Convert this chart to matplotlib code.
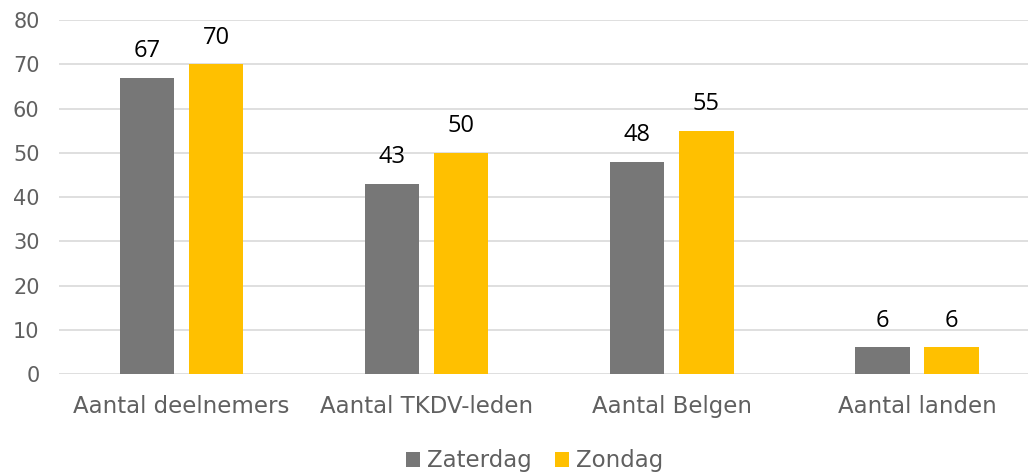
import numpy as np
import matplotlib.pyplot as plt

categories = ['Aantal deelnemers', 'Aantal TKDV-leden', 'Aantal Belgen', 'Aantal landen']
zaterdag = [67, 43, 48, 6]
zondag = [70, 50, 55, 6]

plt.rcParams['font.family'] = ['DejaVu Sans']

fig = plt.figure(figsize=(10.28, 4.73), dpi=100)
# plot area runs past the right edge (the original chart is cropped there)
ax = fig.add_axes([0.0574, 0.2093, 0.9538, 0.7484])

x = np.arange(len(categories))
w = 0.222
b1 = ax.bar(x - 0.141, zaterdag, w, color='#777777', label='Zaterdag', zorder=3)
b2 = ax.bar(x + 0.141, zondag, w, color='#FFC000', label='Zondag', zorder=3)

for bars in (b1, b2):
    for r in bars:
        ax.text(r.get_x() + r.get_width() / 2, r.get_height() + 3.3, f'{int(r.get_height())}',
                ha='center', va='bottom', fontsize=17, color='black', family=['Open Sans', 'DejaVu Sans'])

ax.set_xlim(-0.5, 3.5)
ax.set_ylim(0, 80)
ax.set_yticks(range(0, 81, 10))
ax.set_xticks(x)
ax.set_xticklabels(categories, fontsize=16.5)
ax.tick_params(axis='both', length=0, labelcolor='#606060')
ax.tick_params(axis='y', labelsize=15)
ax.tick_params(axis='x', pad=15)
ax.tick_params(axis='y', pad=14)
ax.grid(axis='y', color='#d9d9d9', linewidth=1.2, zorder=0)
for s in ax.spines.values():
    s.set_visible(False)

ax.legend(loc='upper center', bbox_to_anchor=(0.485, -0.155), ncol=2, frameon=False,
          fontsize=16.5, labelcolor='#606060', handlelength=0.6, handleheight=0.6,
          handletextpad=0.3, columnspacing=1.05)

fig.savefig('out.png', dpi=100)
